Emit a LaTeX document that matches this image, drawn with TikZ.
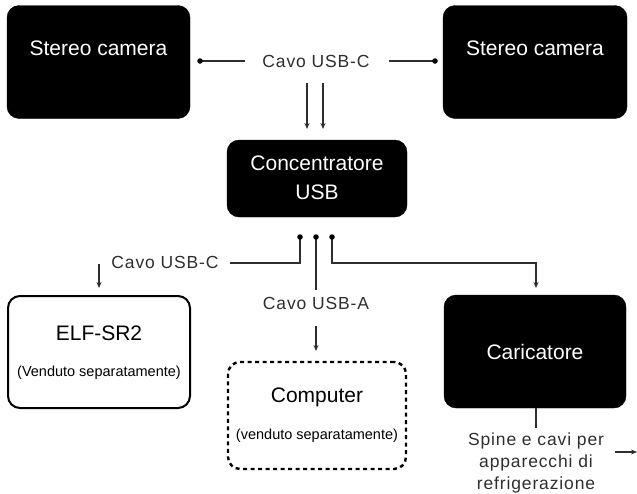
\documentclass[tikz,border=0pt]{standalone}
\usepackage{fontspec}
\setmainfont{Liberation Sans}
\newfontfamily\lblfont[LetterSpace=5]{Liberation Sans}
\usetikzlibrary{arrows.meta}
\definecolor{linec}{HTML}{2E2E2E}
\tikzset{
  darkbox/.style={draw=black, fill=black, rounded corners=12pt, inner sep=0pt},
  whitebox/.style={draw=black, line width=2pt, fill=white, rounded corners=12pt, inner sep=0pt},
  dashbox/.style={draw=black, line width=2.4pt, dash pattern=on 4pt off 3.5pt, fill=white, rounded corners=12pt, inner sep=0pt},
  bigtxt/.style={font=\fontsize{21}{26}\selectfont, inner sep=0pt, align=center},
  smalltxt/.style={font=\fontsize{14.5}{17}\selectfont, inner sep=0pt},
  lbl/.style={font=\lblfont\fontsize{17.5}{22}\selectfont, text=linec, inner sep=0pt, align=center},
  conn/.style={draw=linec, line width=1.3pt},
  arr/.style={conn, -{Stealth[length=6pt,width=5pt]}},
  dotc/.style={fill=black, circle, inner sep=0pt, minimum size=5.5pt},
}
\begin{document}
\begin{tikzpicture}[x=1pt,y=-1pt]
\useasboundingbox (0,0) rectangle (637,493);
% boxes
\node[darkbox, minimum width=183pt, minimum height=113pt] (camL) at (98.5,62) {};
\node[darkbox, minimum width=184pt, minimum height=113pt] (camR) at (535,62) {};
\node[darkbox, minimum width=180pt, minimum height=77pt] (hub) at (317,178.5) {};
\node[whitebox, minimum width=182pt, minimum height=112pt] (elf) at (99,352) {};
\node[dashbox, minimum width=178pt, minimum height=107pt] (pc) at (317,415.5) {};
\node[darkbox, minimum width=182pt, minimum height=113pt] (car) at (535,351.5) {};
% texts
\node[bigtxt, text=white] (camLt) at (98.5,48.5) {Stereo camera};
\node[bigtxt, text=white] (camRt) at (535,48.5) {Stereo camera};
\node[bigtxt, text=white] (hubt1) at (317,163.5) {Concentratore};
\node[bigtxt, text=white] (hubt2) at (317,192) {USB};
\node[bigtxt] (elft) at (99,333) {ELF-SR2};
\node[smalltxt] (elfs) at (99,373) {(Venduto separatamente)};
\node[bigtxt] (pct) at (317,397) {Computer};
\node[smalltxt] (pcs) at (317,436) {(venduto separatamente)};
\node[bigtxt, text=white] (cart) at (535,352) {Caricatore};
% top connectors
\coordinate (d1) at (200,61);
\coordinate (l1) at (245,61);
\node[lbl] (topl) at (316,61) {Cavo USB-C};
\coordinate (l2) at (389,61);
\coordinate (d2) at (435,61);
\draw[conn] (d1) -- (l1);
\draw[conn] (l2) -- (d2);
\node[dotc] at (d1) {};
\node[dotc] at (d2) {};
\coordinate (a1s) at (307,83);
\coordinate (a1e) at (307,129);
\coordinate (a2s) at (323,83);
\coordinate (a2e) at (323,129);
\draw[arr] (a1s) -- (a1e);
\draw[arr] (a2s) -- (a2e);
% bottom connectors
\coordinate (b1) at (300,237);
\coordinate (b2) at (316,237);
\coordinate (b3) at (332,237);
\coordinate (b1e) at (230,263);
\node[lbl] (lblC) at (165,262) {Cavo USB-C};
\coordinate (elfa1) at (99,264);
\coordinate (elfa2) at (99,288);
\draw[conn] (b1) |- (b1e);
\draw[arr] (elfa1) -- (elfa2);
\coordinate (b2e) at (316,290);
\draw[conn] (b2) -- (b2e);
\node[lbl] (lblA) at (316,303) {Cavo USB-A};
\coordinate (pca1) at (316,326);
\coordinate (pca2) at (316,351);
\draw[arr] (pca1) -- (pca2);
\coordinate (b3m) at (536,263);
\coordinate (b3e) at (536,288);
\draw[arr] (b3) |- (b3m) -- (b3e);
\node[dotc] at (b1) {};
\node[dotc] at (b2) {};
\node[dotc] at (b3) {};
% charger output
\coordinate (cb) at (536,428);
\draw[conn] (car.south -| cb) -- (cb);
\node[lbl] (spine) at (536,463) {Spine e cavi per\\apparecchi di\\refrigerazione};
\coordinate (sa1) at (615,452);
\coordinate (sa2) at (637,452);
\draw[arr] (sa1) -- (sa2);
\end{tikzpicture}
\end{document}
